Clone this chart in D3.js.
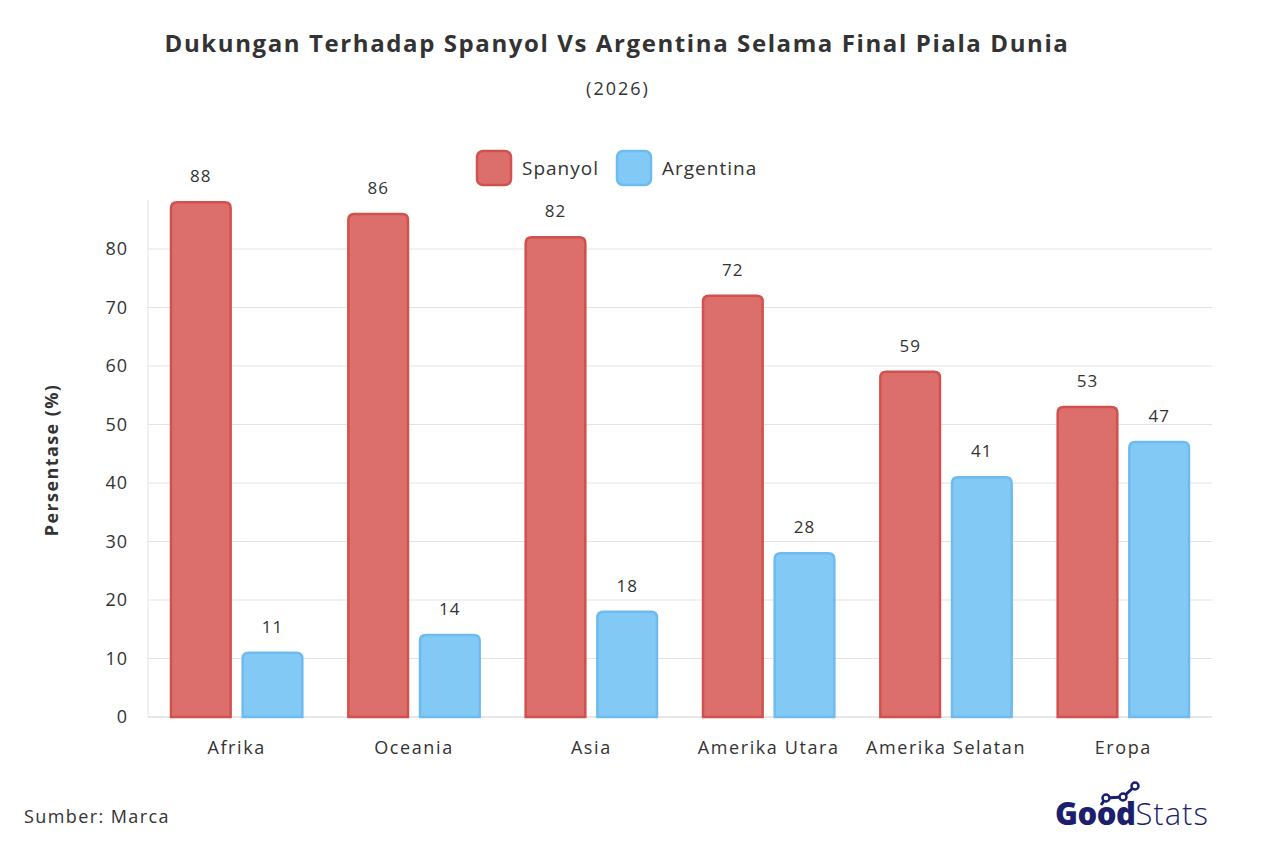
<!DOCTYPE html>
<html>
<head>
<meta charset="utf-8">
<script src="https://cdn.jsdelivr.net/npm/d3@7"></script>
<style>
  body { margin: 0; background: #fff; }
  svg text { font-family: "Open Sans", "DejaVu Sans", sans-serif; fill: #333; }
</style>
</head>
<body>
<div id="chart"></div>
<script>
const regions = ["Afrika", "Oceania", "Asia", "Amerika Utara", "Amerika Selatan", "Eropa"];
const spanyol = [88, 86, 82, 72, 59, 53];
const argentina = [11, 14, 18, 28, 41, 47];
const seriesNames = ["Spanyol", "Argentina"];
const yTicks = [0, 10, 20, 30, 40, 50, 60, 70, 80];

const width = 1264, height = 854;
const fills = ["#dc6f6b", "#82c9f6"];
const strokes = ["#d0514d", "#6dbbef"];

const svg = d3.select("#chart").append("svg")
  .attr("width", width)
  .attr("height", height);

const plotLeft = 148, plotRight = 1212, plotTop = 200, plotBottom = 717;

const x0 = d3.scaleBand().domain(regions).range([plotLeft, plotRight]).paddingInner(0).paddingOuter(0);
const x1 = d3.scaleBand().domain(seriesNames).range([22, x0.bandwidth() - 22]).paddingInner(0.14);
const y = d3.scaleLinear().domain([0, 80]).range([plotBottom, plotBottom - 8 * 58.5]);

// gridlines
svg.append("g")
  .selectAll("line")
  .data(yTicks)
  .enter().append("line")
  .attr("x1", plotLeft).attr("x2", plotRight)
  .attr("y1", d => y(d)).attr("y2", d => y(d))
  .attr("stroke", d => d === 0 ? "#cfcfcf" : "#e3e3e3")
  .attr("stroke-width", 1);

svg.append("line")
  .attr("x1", plotLeft).attr("x2", plotLeft)
  .attr("y1", plotTop).attr("y2", plotBottom)
  .attr("stroke", "#e3e3e3");

// y axis
const yAxis = svg.append("g")
  .attr("transform", `translate(${plotLeft},0)`)
  .call(d3.axisLeft(y).tickValues(yTicks).tickSize(0).tickPadding(20));
yAxis.select(".domain").remove();
yAxis.selectAll("text").style("font-size", "18px").style("letter-spacing", "1px").attr("fill", "#333");

// x axis
const xAxis = svg.append("g")
  .attr("transform", `translate(0,${plotBottom})`)
  .call(d3.axisBottom(x0).tickSize(0).tickPadding(24));
xAxis.select(".domain").remove();
xAxis.selectAll("text").style("font-size", "18px").style("letter-spacing", "1.6px").attr("fill", "#333");

// rounded-top bar path
function barPath(x, yTop, w, h, r) {
  r = Math.min(r, h, w / 2);
  return `M${x},${yTop + h}V${yTop + r}Q${x},${yTop} ${x + r},${yTop}H${x + w - r}Q${x + w},${yTop} ${x + w},${yTop + r}V${yTop + h}Z`;
}

const rows = regions.map((r, i) => ({ region: r, values: [spanyol[i], argentina[i]] }));

const groups = svg.append("g")
  .selectAll("g")
  .data(rows)
  .enter().append("g")
  .attr("transform", d => `translate(${x0(d.region)},0)`);

groups.selectAll("path")
  .data(d => d.values.map((v, k) => ({ key: seriesNames[k], v, k })))
  .enter().append("path")
  .attr("d", d => barPath(x1(d.key) + 1, y(d.v), x1.bandwidth() - 2, plotBottom - y(d.v), 6))
  .attr("fill", d => fills[d.k])
  .attr("stroke", d => strokes[d.k])
  .attr("stroke-width", 2.5);

groups.selectAll("text.val")
  .data(d => d.values.map((v, k) => ({ key: seriesNames[k], v, k })))
  .enter().append("text")
  .attr("class", "val")
  .attr("x", d => x1(d.key) + x1.bandwidth() / 2)
  .attr("y", d => y(d.v) - 20)
  .attr("text-anchor", "middle")
  .style("font-size", "17px")
  .style("letter-spacing", "1px")
  .text(d => d.v);

// title
svg.append("text")
  .attr("x", 617).attr("y", 52)
  .attr("text-anchor", "middle")
  .style("font-size", "24px").style("font-weight", "bold").style("letter-spacing", "1.6px")
  .attr("fill", "#2b2b2b")
  .text("Dukungan Terhadap Spanyol Vs Argentina Selama Final Piala Dunia");

svg.append("text")
  .attr("x", 618).attr("y", 95)
  .attr("text-anchor", "middle")
  .style("font-size", "18px").style("letter-spacing", "2px")
  .text("(2026)");

// legend
const legend = svg.append("g").attr("transform", "translate(477,151)");
const legX = [0, 140];
seriesNames.forEach((s, i) => {
  legend.append("rect")
    .attr("x", legX[i]).attr("y", 0)
    .attr("width", 34).attr("height", 34)
    .attr("rx", 6)
    .attr("fill", fills[i]).attr("stroke", strokes[i]).attr("stroke-width", 2.5);
  legend.append("text")
    .attr("x", legX[i] + 45).attr("y", 24)
    .style("font-size", "19px").style("letter-spacing", "1px")
    .text(s);
});

// y label
svg.append("text")
  .attr("transform", "translate(58,460) rotate(-90)")
  .attr("text-anchor", "middle")
  .style("font-size", "18px").style("font-weight", "bold").style("letter-spacing", "1.4px")
  .text("Persentase (%)");

// source
svg.append("text")
  .attr("x", 24).attr("y", 823)
  .style("font-size", "18px").style("letter-spacing", "1.4px")
  .text("Sumber: Marca");

// logo
const logo = svg.append("g").attr("transform", "translate(1055,0)");
const logoPts = [[46, 805], [51, 798], [68, 797], [80, 786]];
logo.append("path")
  .attr("d", d3.line()(logoPts))
  .attr("fill", "none").attr("stroke", "#1b1f6e").attr("stroke-width", 3);
logo.selectAll("circle").data(logoPts.slice(1)).enter().append("circle")
  .attr("cx", d => d[0]).attr("cy", d => d[1]).attr("r", 3.5)
  .attr("fill", "#fff").attr("stroke", "#1b1f6e").attr("stroke-width", 2.5);
const lt = logo.append("text").attr("x", 0).attr("y", 825).style("font-size", "31px");
lt.append("tspan").text("Good").style("font-weight", "900").style("letter-spacing", "-0.5px").attr("fill", "#1b1f6e");
lt.append("tspan").text("Stats").style("font-weight", "300").style("letter-spacing", "1px").attr("fill", "#1b1f6e");
</script>
</body>
</html>
